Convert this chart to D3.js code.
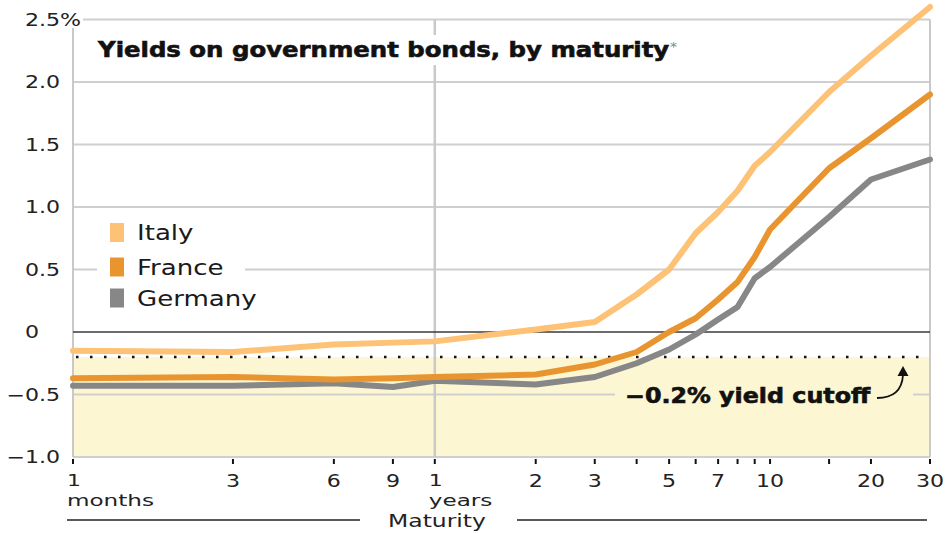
<!DOCTYPE html>
<html>
<head>
<meta charset="utf-8">
<script src="https://cdn.jsdelivr.net/npm/d3@7"></script>
<style>
  html, body { margin: 0; padding: 0; background: #fff; }
  svg { display: block; font-family: "DejaVu Sans", sans-serif; }
</style>
</head>
<body>
<svg id="chart" width="947" height="533"></svg>
<script>
// Maturities in months (1 month … 30 years)
const maturities = [1, 3, 6, 9, 12, 24, 36, 48, 60, 72, 84, 96, 108, 120, 180, 240, 360];

// Yields, %
const italy   = [-0.15, -0.16, -0.10, -0.085, -0.075, 0.02, 0.08, 0.30, 0.50, 0.79, 0.96, 1.13, 1.33, 1.44, 1.92, 2.21, 2.60];
const france  = [-0.37, -0.36, -0.38, -0.37, -0.36, -0.34, -0.26, -0.16, 0.00, 0.11, 0.26, 0.40, 0.60, 0.82, 1.31, 1.55, 1.90];
const germany = [-0.43, -0.43, -0.41, -0.44, -0.39, -0.42, -0.36, -0.25, -0.14, -0.02, 0.10, 0.20, 0.43, 0.52, 0.92, 1.22, 1.38];

const seriesNames  = ["Italy", "France", "Germany"];
const seriesColors = ["#fdc275", "#e9952f", "#878787"];

// Axis ticks
const yTicks      = [-1, -0.5, 0, 0.5, 1, 1.5, 2, 2.5];
const yTickLabels = ["\u22121.0", "\u22120.5", "0", "0.5", "1.0", "1.5", "2.0", "2.5%"];
const xTicks      = [1, 3, 6, 9, 12, 24, 36, 48, 60, 72, 84, 96, 108, 120, 180, 240, 360];
const xTickLabels = ["1", "3", "6", "9", "1", "2", "3", "", "5", "", "7", "", "", "10", "", "20", "30"];
const xUnitLabels = { 1: "months", 12: "years" };
const cutoff = -0.2;

const svg = d3.select("#chart");

const x = d3.scaleLog().domain([1, 360]).range([73, 930]);
const y = d3.scaleLinear().domain([-1, 2.5]).range([457, 19.5]);
const left = x.range()[0], right = x.range()[1];

// horizontally widened text helper
function label(g, str, px, py, opts) {
  const o = Object.assign({ size: 17, weight: "normal", anchor: "start", sx: 1.33, fill: "#222" }, opts || {});
  return g.append("text")
    .attr("transform", `translate(${px},${py}) scale(${o.sx},1)`)
    .attr("text-anchor", o.anchor)
    .attr("font-size", o.size)
    .attr("font-weight", o.weight)
    .attr("fill", o.fill)
    .attr("stroke", o.stroke || "none")
    .attr("stroke-width", o.strokeWidth || 0)
    .text(str);
}

// shaded region below the yield cutoff
svg.append("rect")
  .attr("x", left).attr("y", y(cutoff))
  .attr("width", right - left).attr("height", y(-1) - y(cutoff))
  .attr("fill", "#fcf6d3");

// horizontal gridlines
svg.append("g").selectAll("line")
  .data(yTicks.filter(d => d !== 0))
  .join("line")
  .attr("x1", left).attr("x2", right)
  .attr("y1", d => y(d)).attr("y2", d => y(d))
  .attr("stroke", "#cfcfcf").attr("stroke-width", 2);

// frame: left axis, right border, one-year divider
[left, right, x(12)].forEach(px => {
  svg.append("line")
    .attr("x1", px).attr("x2", px)
    .attr("y1", y(2.5)).attr("y2", y(-1))
    .attr("stroke", "#c9c9c9").attr("stroke-width", px === x(12) ? 2.5 : 2);
});

// zero line
svg.append("line")
  .attr("x1", left).attr("x2", right)
  .attr("y1", y(0)).attr("y2", y(0))
  .attr("stroke", "#3a3a3a").attr("stroke-width", 1.5);

// dotted cutoff line
svg.append("line")
  .attr("x1", left + 3).attr("x2", right)
  .attr("y1", y(cutoff)).attr("y2", y(cutoff))
  .attr("stroke", "#111").attr("stroke-width", 2.5)
  .attr("stroke-dasharray", "2.5 11.5");

// y-axis labels
const yAxis = svg.append("g");
yAxis.append("rect").attr("x", 20).attr("y", 9).attr("width", 63).attr("height", 19).attr("fill", "#fff");
yTicks.forEach((d, i) => {
  const neg = d < 0;
  label(yAxis, yTickLabels[i], neg ? 60 : 25, y(d) + 6, { anchor: neg ? "end" : "start", sx: 1.3 });
});

// x-axis ticks and labels
const xAxis = svg.append("g");
xAxis.selectAll("line")
  .data(xTicks)
  .join("line")
  .attr("x1", d => x(d)).attr("x2", d => x(d))
  .attr("y1", 459).attr("y2", 464)
  .attr("stroke", "#111").attr("stroke-width", 2);
xTicks.forEach((d, i) => {
  if (!xTickLabels[i]) return;
  const unit = xUnitLabels[d];
  if (!unit) {
    label(xAxis, xTickLabels[i], x(d), 487, { anchor: "middle", sx: 1.3 });
    return;
  }
  // first tick of each unit: number with the unit name beneath it
  label(xAxis, xTickLabels[i], x(d) - 6, 485.5, { size: 16.5, sx: 1.33 });
  label(xAxis, unit, x(d) - 6, 506, { size: 16.5, sx: 1.4 });
});
label(xAxis, "Maturity", 437, 527, { anchor: "middle", sx: 1.38 });
xAxis.append("line").attr("x1", 67).attr("x2", 360).attr("y1", 520).attr("y2", 520)
  .attr("stroke", "#222").attr("stroke-width", 1.5);
xAxis.append("line").attr("x1", 517).attr("x2", 927).attr("y1", 520).attr("y2", 520)
  .attr("stroke", "#222").attr("stroke-width", 1.5);

// title with white backing
const title = svg.append("g");
title.append("rect").attr("x", 92).attr("y", 35).attr("width", 596).attr("height", 30).attr("fill", "#fff");
label(title, "Yields on government bonds, by maturity", 98, 57,
  { size: 20.5, weight: "bold", sx: 1.19, fill: "#111", stroke: "#111", strokeWidth: 0.6 });
label(title, "*", 670, 51, { size: 13, sx: 1.1, fill: "#888" });

// legend with white backing
const legend = svg.append("g");
legend.append("rect").attr("x", 97).attr("y", 213).attr("width", 148).attr("height", 100).attr("fill", "#fff");
const legendY = [232.5, 267, 298];
seriesNames.forEach((name, i) => {
  legend.append("rect")
    .attr("x", 110).attr("y", legendY[i] - 9.5)
    .attr("width", 14).attr("height", 19)
    .attr("fill", seriesColors[i]);
  label(legend, name, 137, legendY[i] + 7.5, { size: 20.5, sx: 1.27, fill: "#1a1a1a" });
});

// yield curves
const line = d3.line()
  .x(d => x(d[0]))
  .y(d => y(d[1]));
const series = [italy, france, germany];
[2, 1, 0].forEach(i => {
  svg.append("path")
    .datum(maturities.map((m, j) => [m, series[i][j]]))
    .attr("d", line)
    .attr("fill", "none")
    .attr("stroke", seriesColors[i])
    .attr("stroke-width", 6)
    .attr("stroke-linejoin", "round")
    .attr("stroke-linecap", "round");
});

// cutoff annotation
const note = svg.append("g");
note.append("rect").attr("x", 615).attr("y", 383).attr("width", 298).attr("height", 24).attr("fill", "#fcf6d3");
label(note, "\u22120.2% yield cutoff", 625, 403,
  { size: 20.5, weight: "bold", sx: 1.16, fill: "#111", stroke: "#111", strokeWidth: 0.6 });
note.append("path")
  .attr("d", "M877,398 C892,398 902,391 903,375")
  .attr("fill", "none").attr("stroke", "#111").attr("stroke-width", 1.8);
note.append("path")
  .attr("d", "M903,366 L908.5,376 L897.5,376 Z")
  .attr("fill", "#111");
</script>
</body>
</html>
